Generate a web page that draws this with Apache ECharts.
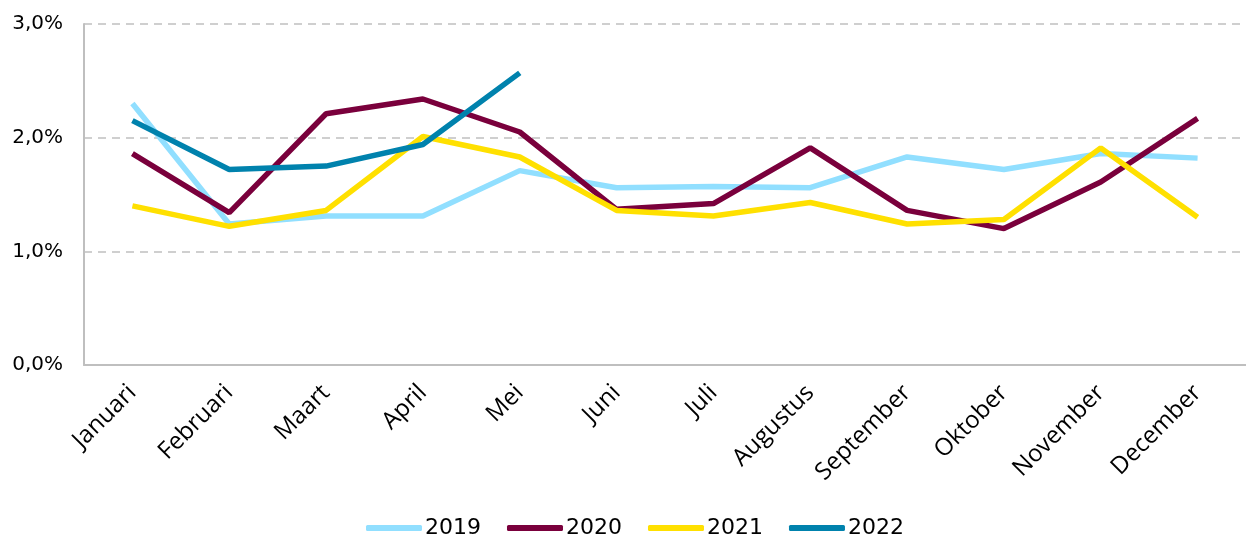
<!DOCTYPE html>
<html>
<head>
<meta charset="utf-8">
<script src="https://cdn.jsdelivr.net/npm/echarts@6/dist/echarts.min.js"></script>
<style>
  html, body { margin: 0; padding: 0; background: #fff; }
  #main { width: 1246px; height: 540px; }
</style>
</head>
<body>
<div id="main"></div>
<script>
// maanden op de x-as
const months = ["Januari", "Februari", "Maart", "April", "Mei", "Juni", "Juli",
  "Augustus", "September", "Oktober", "November", "December"];

// percentages per jaar
const y2019 = [2.30, 1.24, 1.31, 1.31, 1.71, 1.56, 1.57, 1.56, 1.83, 1.72, 1.86, 1.82];
const y2020 = [1.86, 1.34, 2.21, 2.34, 2.05, 1.37, 1.42, 1.91, 1.36, 1.20, 1.61, 2.17];
const y2021 = [1.40, 1.22, 1.36, 2.01, 1.83, 1.36, 1.31, 1.43, 1.24, 1.28, 1.91, 1.30];
const y2022 = [2.15, 1.72, 1.75, 1.94, 2.57];

const yTicks = [0, 1, 2, 3];

const chart = echarts.init(document.getElementById("main"));

const mkLine = (name, data, color) => ({
  name: name,
  type: "line",
  data: data,
  symbol: "none",
  itemStyle: { color: color },
  lineStyle: { color: color, width: 5.5 },
});

chart.setOption({
  animation: false,
  grid: { left: 84, right: -2, top: 24, bottom: 175 },
  legend: {
    top: 512,
    left: 361,
    icon: "roundRect",
    itemWidth: 56,
    itemHeight: 6,
    itemGap: 26,
    textStyle: { fontFamily: "DejaVu Sans", fontSize: 22, color: "#000", padding: [0, 0, 0, -2] },
    data: ["2019", "2020", "2021", "2022"],
  },
  xAxis: {
    type: "category",
    data: months,
    boundaryGap: true,
    axisLine: { lineStyle: { color: "#bfbfbf", width: 2 } },
    axisTick: { show: false },
    axisLabel: {
      rotate: 45,
      margin: 24,
      fontFamily: "Open Sans",
      fontSize: 24,
      color: "#000",
      interval: 0,
    },
  },
  yAxis: {
    type: "value",
    min: yTicks[0],
    max: yTicks[yTicks.length - 1],
    interval: 1,
    axisLine: { show: true, lineStyle: { color: "#bfbfbf", width: 2 } },
    axisTick: { show: false },
    axisLabel: {
      margin: 21,
      fontFamily: "DejaVu Sans",
      fontSize: 20,
      color: "#000",
      formatter: (v) => v.toFixed(1).replace(".", ",") + "%",
    },
    splitLine: { lineStyle: { color: "#c0c0c0", type: [8, 6], width: 1.5 } },
  },
  series: [
    mkLine("2019", y2019, "#91dfff"),
    mkLine("2020", y2020, "#7a003c"),
    mkLine("2021", y2021, "#ffe000"),
    mkLine("2022", y2022, "#0082ad"),
  ],
});
</script>
</body>
</html>
